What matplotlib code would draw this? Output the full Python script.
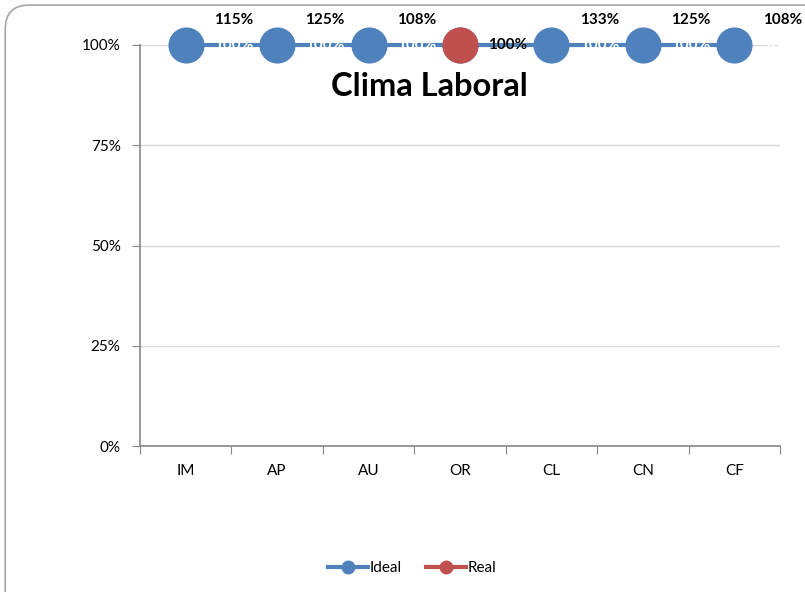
import matplotlib
matplotlib.use("Agg")
import matplotlib.pyplot as plt
import numpy as np
from matplotlib.patches import FancyBboxPatch
from matplotlib.lines import Line2D
from matplotlib.ticker import FixedLocator, PercentFormatter

plt.rcParams['font.family'] = ['Lato', 'DejaVu Sans']

categories = ["IM", "AP", "AU", "OR", "CL", "CN", "CF"]
ideal = [1.00, 1.00, 1.00, 1.00, 1.00, 1.00, 1.00]
real = [1.15, 1.25, 1.08, 1.00, 1.33, 1.25, 1.08]
y_ticks = [0, 0.25, 0.5, 0.75, 1.0]

blue = "#4f81bd"
red = "#c0504d"

fig = plt.figure(figsize=(8.05, 5.92), dpi=100)
fig.patch.set_facecolor("white")

# rounded chart frame
frame = FancyBboxPatch((0.0065, -0.05), 1.05, 1.0415,
                       boxstyle="round,pad=0,rounding_size=0.03",
                       transform=fig.transFigure, facecolor="white",
                       edgecolor="#a6a6a6", linewidth=1.2, zorder=-5,
                       mutation_aspect=805 / 592)
fig.patches.append(frame)

ax = fig.add_axes([140 / 805, 1 - 446 / 592, 640 / 805, 401 / 592])
ax.set_facecolor("none")
ax.set_zorder(1)

x = np.arange(len(categories))
ideal = np.array(ideal)
real = np.array(real)

ax.set_xlim(-0.5, len(categories) - 0.5)
ax.set_ylim(0, 1)

ax.yaxis.set_major_locator(FixedLocator(y_ticks))
ax.yaxis.set_major_formatter(PercentFormatter(1.0, decimals=0))
ax.grid(axis="y", color="#d9d9d9", linewidth=1, zorder=1)
ax.set_axisbelow(True)

ax.set_xticks(np.arange(-0.5, len(categories), 1.0))
ax.set_xticklabels([])
ax.set_xticks(x, minor=True)
ax.set_xticklabels(categories, minor=True)
ax.tick_params(axis="x", which="major", length=6, color="#868686", direction="out")
ax.tick_params(axis="x", which="minor", length=0, pad=13, labelsize=11)
ax.tick_params(axis="y", length=6, color="#868686", labelsize=11, pad=8)

for side in ["top", "right"]:
    ax.spines[side].set_visible(False)
for side in ["left", "bottom"]:
    ax.spines[side].set_color("#868686")
    ax.spines[side].set_linewidth(1.2)

# Ideal series
ax.plot(x, ideal, color=blue, linewidth=3, zorder=3, clip_on=False)
ax.plot(x, ideal, linestyle="none", marker="o", markersize=25,
        color=blue, zorder=4, clip_on=False)
for xi, v in zip(x, ideal):
    ax.annotate(f"{v:.0%}", (xi, v), xytext=(48, 0), textcoords="offset pixels",
                ha="center", va="center", color="white", fontsize=11,
                fontweight="bold", zorder=3.5, annotation_clip=False)

# Real series: line clipped to the plot area, markers only where in range
ax.plot(x, real, color=red, linewidth=3, zorder=5)
inside = real <= 1.0
ax.plot(x[inside], real[inside], linestyle="none", marker="o", markersize=25,
        color=red, zorder=6, clip_on=False)
for xi, v in zip(x, real):
    shown = min(v, 1.0)
    dy = 25 if v > 1.0 else 0
    ax.annotate(f"{v:.0%}", (xi, shown), xytext=(48, dy), textcoords="offset pixels",
                ha="center", va="center", color="black", fontsize=11,
                fontweight="bold", zorder=7, annotation_clip=False)

fig.text(429 / 805, 1 - 87 / 592, "Clima Laboral", ha="center", va="center",
         fontsize=23.5, fontweight="bold")

handles = [
    Line2D([], [], color=blue, linewidth=3, marker="o", markersize=9),
    Line2D([], [], color=red, linewidth=3, marker="o", markersize=9),
]
fig.legend(handles, ["Ideal", "Real"], loc="center", bbox_to_anchor=(412 / 805, 1 - 568 / 592),
           ncol=2, frameon=False, fontsize=11, handlelength=2.6,
           handletextpad=0.1, columnspacing=1.6)

fig.savefig("out.png", dpi=100, facecolor="white")
